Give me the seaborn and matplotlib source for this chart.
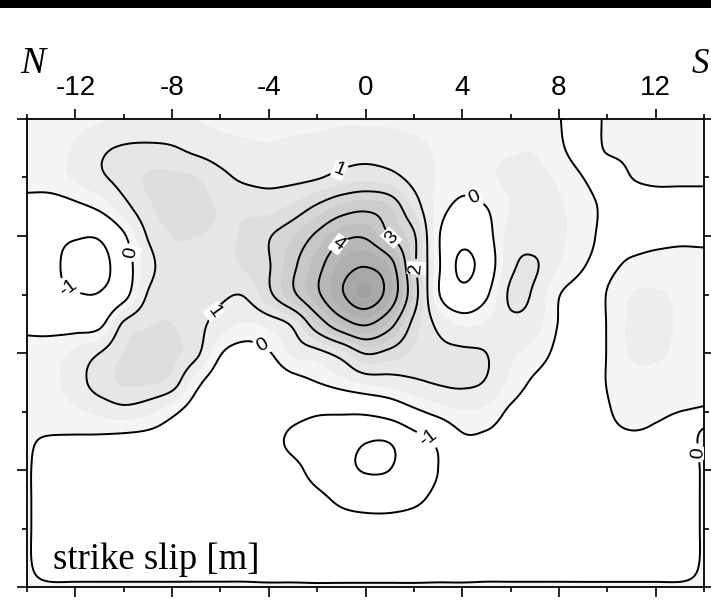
import numpy as np
import matplotlib
matplotlib.use("Agg")
import matplotlib.pyplot as plt
from matplotlib.patches import Rectangle
from matplotlib.ticker import MultipleLocator
import seaborn as sns

# Along-strike distance (km, N -> S) and down-dip distance (km) of the slip grid nodes
x_km = np.arange(-14, 15, 1)
depth_km = np.arange(0, 17, 1)

# Strike-slip on the fault plane [m]; one row per down-dip node, one value per along-strike node
slip_rows = [
    [0.3, 0.3, 0.35, 0.45, 0.55, 0.6, 0.6, 0.5, 0.4, 0.35, 0.35, 0.4, 0.4, 0.45, 0.45, 0.45, 0.4, 0.35, 0.3, 0.3, 0.35, 0.3, 0.02, -0.2, 0.06, 0.15, 0.2, 0.2, 0.2],
    [0.3, 0.35, 0.55, 0.9, 1.05, 1.1, 1.05, 0.85, 0.7, 0.6, 0.55, 0.6, 0.65, 0.75, 0.75, 0.7, 0.6, 0.45, 0.35, 0.4, 0.45, 0.45, 0.1, -0.25, 0.05, 0.1, 0.15, 0.15, 0.15],
    [0.2, 0.3, 0.55, 0.9, 1.2, 1.55, 1.6, 1.5, 1.15, 0.9, 0.85, 0.85, 0.95, 1.2, 1.35, 1.2, 0.8, 0.45, 0.2, 0.4, 0.6, 0.65, 0.4, 0.0, -0.25, 0.0, 0.1, 0.1, 0.1],
    [-0.2, -0.3, -0.15, 0.15, 0.8, 1.4, 1.7, 1.65, 1.45, 1.4, 1.3, 1.6, 2.1, 2.6, 2.8, 2.5, 1.35, 0.3, -0.15, 0.0, 0.5, 0.7, 0.55, 0.25, -0.15, -0.25, -0.25, -0.25, -0.25],
    [-0.45, -0.75, -0.92, -0.9, -0.1, 1.05, 1.5, 1.5, 1.45, 1.55, 1.95, 2.45, 3.15, 3.8, 3.9, 3.0, 2.1, 0.1, -0.7, -0.25, 0.7, 0.8, 0.6, 0.2, -0.15, -0.2, -0.15, -0.1, -0.1],
    [-0.5, -0.8, -1.3, -1.3, -0.45, 0.75, 1.35, 1.3, 1.35, 1.55, 1.95, 2.85, 3.75, 4.6, 4.95, 4.35, 2.2, 0.15, -1.2, -0.5, 0.85, 1.05, 0.5, 0.03, -0.1, 0.1, 0.2, 0.2, 0.15],
    [-0.45, -0.75, -0.95, -0.95, -0.3, 1.05, 1.3, 1.25, 1.1, 1.05, 1.85, 2.85, 3.85, 4.9, 5.55, 4.6, 2.4, 0.1, -0.7, -0.1, 1.1, 0.9, 0.03, -0.2, 0.02, 0.5, 0.55, 0.4, 0.2],
    [-0.1, -0.25, -0.3, -0.2, 1.1, 1.45, 1.5, 1.2, 0.75, 0.45, 0.65, 1.15, 2.5, 3.6, 4.1, 3.3, 1.8, 0.85, 0.4, 0.55, 0.85, 0.7, -0.03, -0.25, 0.02, 0.6, 0.6, 0.45, 0.25],
    [0.1, 0.3, 0.6, 1.0, 1.5, 1.7, 1.6, 1.15, 0.05, -0.25, -0.05, 0.6, 0.8, 1.3, 2.05, 1.8, 1.4, 1.15, 1.1, 1.0, 0.6, 0.3, -0.15, -0.3, 0.02, 0.55, 0.55, 0.4, 0.2],
    [0.1, 0.35, 0.75, 1.25, 1.55, 1.55, 1.3, 0.2, -0.4, -0.5, -0.45, -0.25, 0.0, 0.3, 0.6, 0.7, 0.9, 1.05, 1.1, 0.95, 0.35, -0.1, -0.3, -0.3, 0.02, 0.3, 0.35, 0.3, 0.15],
    [0.05, 0.25, 0.4, 0.6, 0.8, 0.6, 0.15, -0.3, -0.5, -0.55, -0.6, -0.75, -0.9, -0.9, -0.85, -0.6, -0.15, 0.2, 0.45, 0.35, -0.1, -0.3, -0.3, -0.3, -0.05, 0.2, 0.08, 0.0, -0.02],
    [0.03, -0.05, -0.08, -0.12, -0.2, -0.25, -0.35, -0.45, -0.5, -0.55, -0.75, -1.15, -1.4, -1.6, -1.95, -1.95, -1.35, -0.85, -0.15, -0.15, -0.3, -0.3, -0.3, -0.3, -0.15, -0.1, -0.1, -0.1, 0.03],
    [0.03, -0.2, -0.2, -0.25, -0.25, -0.3, -0.3, -0.35, -0.4, -0.5, -0.65, -0.8, -1.3, -1.75, -2.05, -2.0, -1.5, -1.0, -0.5, -0.35, -0.3, -0.3, -0.3, -0.25, -0.25, -0.2, -0.2, -0.2, 0.03],
    [0.03, -0.2, -0.25, -0.25, -0.3, -0.3, -0.3, -0.3, -0.35, -0.4, -0.45, -0.55, -0.8, -1.15, -1.3, -1.3, -1.15, -0.8, -0.45, -0.35, -0.3, -0.3, -0.3, -0.25, -0.25, -0.2, -0.2, -0.2, 0.03],
    [0.03, -0.2, -0.25, -0.25, -0.25, -0.25, -0.25, -0.3, -0.3, -0.3, -0.35, -0.4, -0.5, -0.65, -0.7, -0.7, -0.6, -0.45, -0.35, -0.3, -0.25, -0.25, -0.25, -0.2, -0.2, -0.2, -0.2, -0.2, 0.03],
    [0.03, -0.2, -0.2, -0.2, -0.2, -0.2, -0.2, -0.2, -0.2, -0.2, -0.25, -0.25, -0.3, -0.3, -0.3, -0.3, -0.3, -0.25, -0.25, -0.2, -0.2, -0.2, -0.2, -0.2, -0.2, -0.2, -0.2, -0.2, 0.03],
    [0.03] * 29,
]

contour_levels = [-2, -1, 0, 1, 2, 3, 4, 5]
shade_levels = [-5, 0, 0.5, 1, 1.5, 2, 2.5, 3, 3.5, 4, 4.5, 5, 5.5, 8]
tick_labels_km = [-12, -8, -4, 0, 4, 8, 12]

# Points (along-strike, down-dip) next to which the contour values are written
label_spots = [
    (-1.1, 1.7), (-1.2, 4.2), (0.95, 4.15), (2.1, 5.1),
    (4.6, 2.5), (-9.9, 4.6), (-12.2, 5.7), (-6.4, 6.5),
    (-4.3, 7.8), (2.5, 11.0), (13.9, 11.4),
]


def catmull_rom(n, factor):
    """Weights that resample n equally spaced nodes onto a grid `factor` times finer."""
    t = np.linspace(0, n - 1, (n - 1) * factor + 1)
    i = np.clip(np.floor(t).astype(int), 0, n - 2)
    u = t - i
    w = np.stack([
        -0.5 * u**3 + u**2 - 0.5 * u,
        1.5 * u**3 - 2.5 * u**2 + 1,
        -1.5 * u**3 + 2 * u**2 + 0.5 * u,
        0.5 * u**3 - 0.5 * u**2,
    ], axis=1)
    m = np.zeros((len(t), n))
    rows = np.arange(len(t))
    for k in range(4):
        np.add.at(m, (rows, np.clip(i - 1 + k, 0, n - 1)), w[:, k])
    return m, t


slip = np.array(slip_rows, dtype=float)
my, ty = catmull_rom(len(depth_km), 10)
mx, tx = catmull_rom(len(x_km), 10)
slip_fine = my @ slip @ mx.T
xf = x_km[0] + tx * (x_km[1] - x_km[0])
yf = depth_km[0] + ty * (depth_km[1] - depth_km[0])
XX, YY = np.meshgrid(xf, yf)

sns.set_theme(style="white")
plt.rcParams["font.family"] = ["Liberation Sans", "DejaVu Sans"]
plt.rcParams["axes.unicode_minus"] = False
plt.rcParams["contour.negative_linestyle"] = "solid"

fig = plt.figure(figsize=(7.11, 6.0), dpi=100)
fig.patch.set_facecolor("white")
ax = fig.add_axes([27 / 711, 13 / 600, 677 / 711, 468 / 600])

grays = ["#ffffff"] + sns.blend_palette(["#f5f5f5", "#a0a0a0"], n_colors=len(shade_levels) - 2)
ax.contourf(XX, YY, slip_fine, levels=shade_levels, colors=grays)
cs = ax.contour(XX, YY, slip_fine, levels=contour_levels, colors="black", linewidths=1.4)

labels = ax.clabel(cs, levels=contour_levels, manual=label_spots,
                   inline=True, inline_spacing=4, fmt=lambda v: f"{v:.0f}", fontsize=14)
for t in labels:
    t.set_bbox(dict(boxstyle="square,pad=0.05", fc="white", ec="none"))

ax.set_xlim(-14, 14)
ax.set_ylim(16, 0)
ax.set_xticks(tick_labels_km)
ax.set_xticklabels([str(v) for v in tick_labels_km])
ax.xaxis.set_minor_locator(MultipleLocator(2))
ax.set_yticks([0, 4, 8, 12, 16])
ax.yaxis.set_minor_locator(MultipleLocator(2))
ax.tick_params(axis="x", which="both", top=True, bottom=True, labeltop=True, labelbottom=False,
               direction="out", color="black", width=1.2)
ax.tick_params(axis="y", which="both", left=True, right=True, labelleft=False, labelright=False,
               direction="out", color="black", width=1.2)
ax.tick_params(which="major", length=7.5)
ax.tick_params(which="minor", length=3.5)
ax.tick_params(axis="x", which="major", labelsize=20, pad=5.5, labelcolor="black")
for s in ax.spines.values():
    s.set_color("black")
    s.set_linewidth(1.3)
ax.set_xlabel("")
ax.set_ylabel("")

fig.text(20 / 711, 1 - 73 / 600, "N", fontsize=27, style="italic", family="Liberation Serif",
         ha="left", va="baseline", color="black")
fig.text(692 / 711, 1 - 73 / 600, "S", fontsize=25, style="italic", family="Liberation Serif",
         ha="left", va="baseline", color="black")
fig.text(53 / 711, 1 - 569 / 600, "strike slip [m]", fontsize=26.5, family="Liberation Serif",
         ha="left", va="baseline", color="black")

fig.patches.append(Rectangle((0, 1 - 8 / 600), 1, 8 / 600, transform=fig.transFigure,
                             facecolor="black", edgecolor="none"))

fig.savefig("out.png", dpi=100)
